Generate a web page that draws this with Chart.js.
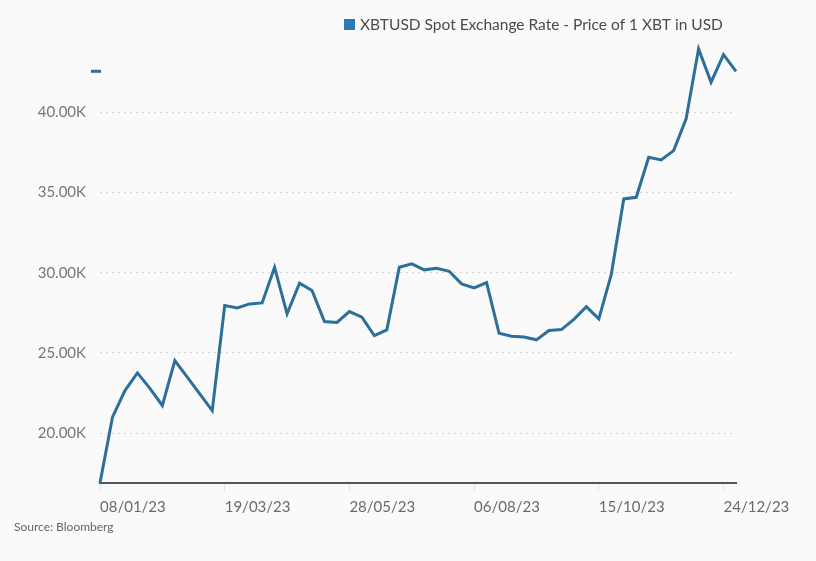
<!DOCTYPE html>
<html>
<head>
<meta charset="utf-8">
<script src="https://cdn.jsdelivr.net/npm/chart.js@4.4.1/dist/chart.umd.min.js"></script>
<style>
  html, body { margin: 0; padding: 0; background: #fafafa; }
  #wrap { width: 816px; height: 561px; position: relative; }
</style>
</head>
<body>
<div id="wrap"><canvas id="c" width="816" height="561"></canvas></div>
<script>
const dates = ["08/01/23","15/01/23","22/01/23","29/01/23","05/02/23","12/02/23","19/02/23","26/02/23","05/03/23","12/03/23",
  "19/03/23","26/03/23","02/04/23","09/04/23","16/04/23","23/04/23","30/04/23","07/05/23","14/05/23","21/05/23",
  "28/05/23","04/06/23","11/06/23","18/06/23","25/06/23","02/07/23","09/07/23","16/07/23","23/07/23","30/07/23",
  "06/08/23","13/08/23","20/08/23","27/08/23","03/09/23","10/09/23","17/09/23","24/09/23","01/10/23","08/10/23",
  "15/10/23","22/10/23","29/10/23","05/11/23","12/11/23","19/11/23","26/11/23","03/12/23","10/12/23","17/12/23",
  "24/12/23","31/12/23"];
// XBTUSD weekly price, thousands of USD
const xbtusd = [16.9, 21.0, 22.66, 23.76, 22.8, 21.73, 24.53, 23.5, 22.45, 21.41,
  27.96, 27.81, 28.06, 28.12, 30.34, 27.44, 29.35, 28.89, 26.96, 26.9,
  27.58, 27.23, 26.09, 26.44, 30.34, 30.55, 30.18, 30.28, 30.09, 29.31,
  29.06, 29.39, 26.23, 26.04, 26.0, 25.82, 26.40, 26.46, 27.10, 27.89,
  27.13, 29.9, 34.6, 34.7, 37.2, 37.03, 37.61, 39.59, 43.95, 41.87,
  43.59, 42.55];
const yTickValues = [20, 25, 30, 35, 40];
const seriesName = "XBTUSD Spot Exchange Rate - Price of 1 XBT in USD";
const sourceText = "Source: Bloomberg";

const LINE = "#2d6f98";
const BOX = "#2a7bb3";
const FONT = "Lato, 'Open Sans', sans-serif";

const decor = {
  id: 'decor',
  beforeDraw(chart) {
    const ctx = chart.ctx;
    ctx.save();
    ctx.fillStyle = '#fafafa';
    ctx.fillRect(0, 0, chart.width, chart.height);
    ctx.restore();
  },
  afterDraw(chart) {
    const ctx = chart.ctx;
    const y = chart.scales.y;
    ctx.save();
    // legend
    ctx.fillStyle = BOX;
    ctx.fillRect(344, 19, 11, 11);
    ctx.fillStyle = '#4a4a4a';
    ctx.font = "15.5px " + FONT;
    ctx.textBaseline = 'middle';
    ctx.textAlign = 'left';
    ctx.fillText(seriesName, 360, 25);
    // last value marker
    const ly = y.getPixelForValue(xbtusd[xbtusd.length - 1]);
    ctx.fillStyle = LINE;
    ctx.fillRect(91, ly - 1.5, 10, 3);
    // source
    ctx.fillStyle = '#666';
    ctx.font = "12px " + FONT;
    ctx.fillText(sourceText, 14, 527);
    ctx.restore();
  }
};

new Chart(document.getElementById('c'), {
  type: 'line',
  data: {
    labels: dates,
    datasets: [{
      label: seriesName,
      data: xbtusd,
      borderColor: LINE,
      backgroundColor: LINE,
      borderWidth: 3,
      pointRadius: 0,
      tension: 0,
      borderJoinStyle: 'miter',
      clip: false
    }]
  },
  options: {
    responsive: false,
    animation: false,
    layout: { padding: { top: 45, right: 80, bottom: 0, left: 0 } },
    plugins: { legend: { display: false }, tooltip: { enabled: false } },
    scales: {
      x: {
        type: 'category',
        offset: false,
        afterFit(s) { s.height = 78; s.paddingRight = 0; s.paddingLeft = 0; },
        border: { display: true, color: '#555', width: 2 },
        grid: {
          drawOnChartArea: false,
          drawTicks: true,
          tickLength: 8,
          color: (c) => (c.index % 10 === 0 ? '#e2e2e2' : 'rgba(0,0,0,0)')
        },
        ticks: {
          autoSkip: false,
          maxRotation: 0,
          align: 'start',
          padding: 7,
          color: '#6a6a6a',
          font: { family: FONT, size: 15 },
          callback(v, i) { return i % 10 === 0 ? dates[i] : ''; }
        }
      },
      y: {
        min: 16.9,
        max: 44.19,
        afterFit(s) { s.width = 100; },
        afterBuildTicks(s) { s.ticks = yTickValues.map(v => ({ value: v })); },
        border: { display: false, dash: [2, 4] },
        grid: {
          drawTicks: false,
          color: '#d6d6d6',
          lineWidth: 1
        },
        ticks: {
          padding: 14,
          color: '#777',
          font: { family: FONT, size: 15 },
          callback(v) { return Number(v).toFixed(2) + 'K'; }
        }
      }
    }
  },
  plugins: [decor]
});
</script>
</body>
</html>
